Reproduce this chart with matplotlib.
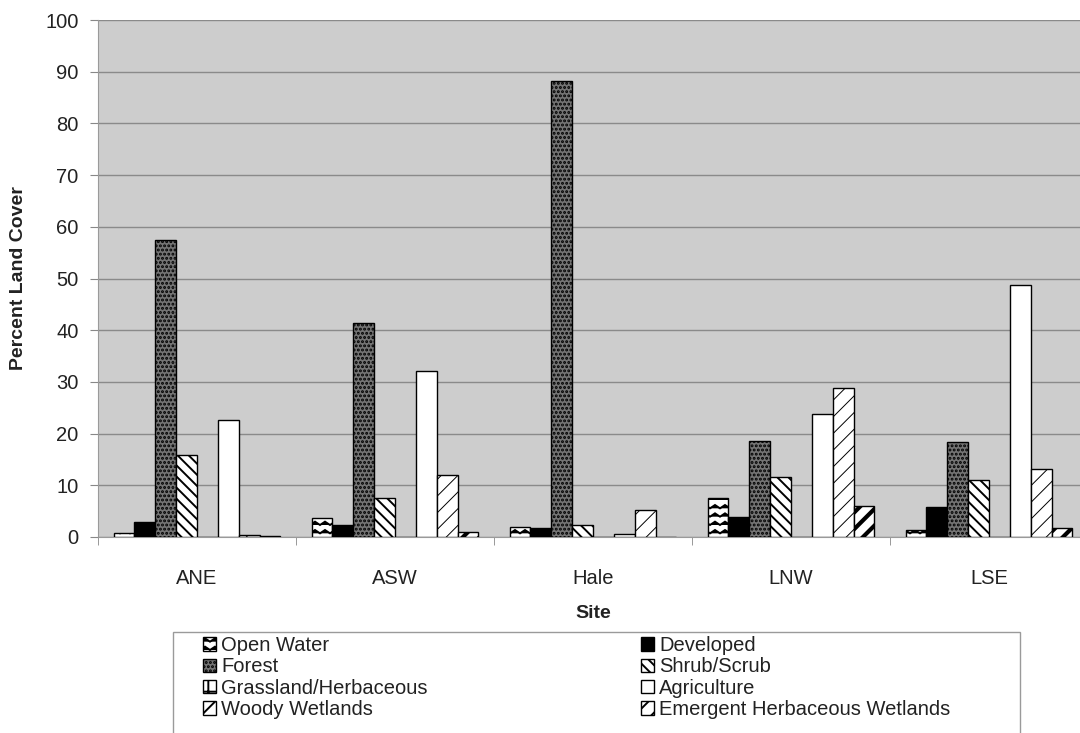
import numpy as np
import matplotlib
matplotlib.use("Agg")
import matplotlib.pyplot as plt
import matplotlib.hatch as mhatch
from matplotlib.path import Path
from matplotlib.patches import Rectangle


# zigzag hatch for open water ('z')
class Zigzag(mhatch.HatchPatternBase):
    def __init__(self, hatch, density):
        self.num_rows = int(hatch.count('z') * density)
        self.num_vertices = self.num_rows * 21

    def set_vertices_and_codes(self, vertices, codes):
        h = 0.4 / max(self.num_rows, 1)
        xs = np.linspace(0, 1, 21)
        k = 0
        for y in np.linspace(0, 1, self.num_rows, endpoint=False):
            ys = y + np.where(np.arange(21) % 2 == 1, h, 0.0)
            vertices[k:k + 21, 0] = xs
            vertices[k:k + 21, 1] = ys
            codes[k] = Path.MOVETO
            codes[k + 1:k + 21] = Path.LINETO
            k += 21


mhatch._hatch_types.append(Zigzag)

sites = ["ANE", "ASW", "Hale", "LNW", "LSE"]
open_water = [0.8, 3.6, 1.9, 7.6, 1.3]
developed = [2.9, 2.3, 1.8, 3.8, 5.8]
forest = [57.5, 41.3, 88.2, 18.6, 18.4]
shrub = [15.8, 7.6, 2.4, 11.6, 11.0]
grassland = [0, 0, 0, 0, 0]
agriculture = [22.6, 32.2, 0.5, 23.7, 48.8]
woody = [0.4, 12.0, 5.3, 28.9, 13.1]
emergent = [0.2, 0.9, 0, 5.9, 1.8]

series = [
    ("Open Water", open_water, "white", "zz"),
    ("Developed", developed, "black", None),
    ("Forest", forest, "#747474", "...."),
    ("Shrub/Scrub", shrub, "white", "\\\\\\"),
    ("Grassland/Herbaceous", grassland, "white", "+"),
    ("Agriculture", agriculture, "white", None),
    ("Woody Wetlands", woody, "white", "//"),
    ("Emergent Herbaceous Wetlands", emergent, "white", "//"),
]
hatch_widths = {"Woody Wetlands": 0.7, "Emergent Herbaceous Wetlands": 3.0}

plt.rcParams['font.family'] = ['Liberation Sans', 'DejaVu Sans']
plt.rcParams['hatch.linewidth'] = 1.4
text_col = "#222222"

fig = plt.figure(figsize=(10.8, 7.33), dpi=100)
ax = fig.add_axes([98 / 1080, 1 - 537 / 733, 990 / 1080, 517 / 733])
ax.set_facecolor("#cdcdcd")

x = np.arange(len(sites))
w = 1 / 9.5
handles = []
for k, (label, vals, fc, hatch) in enumerate(series):
    bars = ax.bar(x + (k - 3.5) * w, vals, w, color=fc, edgecolor="black",
                  linewidth=1.0, hatch=hatch, label=label, zorder=3)
    if label in hatch_widths:
        for b in bars:
            if hasattr(b, "set_hatch_linewidth"):
                b.set_hatch_linewidth(hatch_widths[label])
    handles.append(bars)

ax.set_xlim(-0.5, len(sites) - 0.5)
ax.set_ylim(0, 100)
ax.set_yticks(range(0, 101, 10))
ax.yaxis.grid(True, color="#8a8a8a", linewidth=1.0, zorder=0)
ax.set_axisbelow(True)

ax.set_xticks(x)
ax.set_xticklabels(sites)
ax.set_xticks(np.arange(-0.5, len(sites)), minor=True)
ax.tick_params(axis="x", which="major", length=0, pad=23, labelsize=14.5, labelcolor=text_col)
ax.tick_params(axis="x", which="minor", length=6, color="#888888")
ax.tick_params(axis="y", length=6, color="#888888", pad=8, labelsize=14.5, labelcolor=text_col)

for s in ("top", "right"):
    ax.spines[s].set_visible(False)
ax.spines["left"].set_color("#9a9a9a")
ax.spines["bottom"].set_color("#9a9a9a")

ax.set_ylabel("Percent Land Cover", fontsize=14, fontweight="bold", color=text_col, labelpad=13)
ax.set_xlabel("Site", fontsize=14, fontweight="bold", color=text_col, labelpad=12)

# legend: box + two single-column legends
fig.patches.append(Rectangle((173 / 1080, -0.01), (1020 - 173) / 1080, (733 - 632) / 733 + 0.01,
                             transform=fig.transFigure, facecolor="white",
                             edgecolor="#9a9a9a", linewidth=1.0))
left_idx = [0, 2, 4, 6]
right_idx = [1, 3, 5, 7]
for idx, xpos in ((left_idx, 203), (right_idx, 641)):
    leg = fig.legend([handles[i] for i in idx], [series[i][0] for i in idx],
                     loc="upper left", bbox_to_anchor=(xpos / 1080, 1 - 636 / 733),
                     ncol=1, frameon=False, fontsize=14.5, handlelength=0.65,
                     handleheight=0.65, handletextpad=0.25, labelspacing=0.12,
                     borderpad=0.0, borderaxespad=0.0)
    for t in leg.get_texts():
        t.set_color(text_col)

fig.savefig("out.png", dpi=100)
